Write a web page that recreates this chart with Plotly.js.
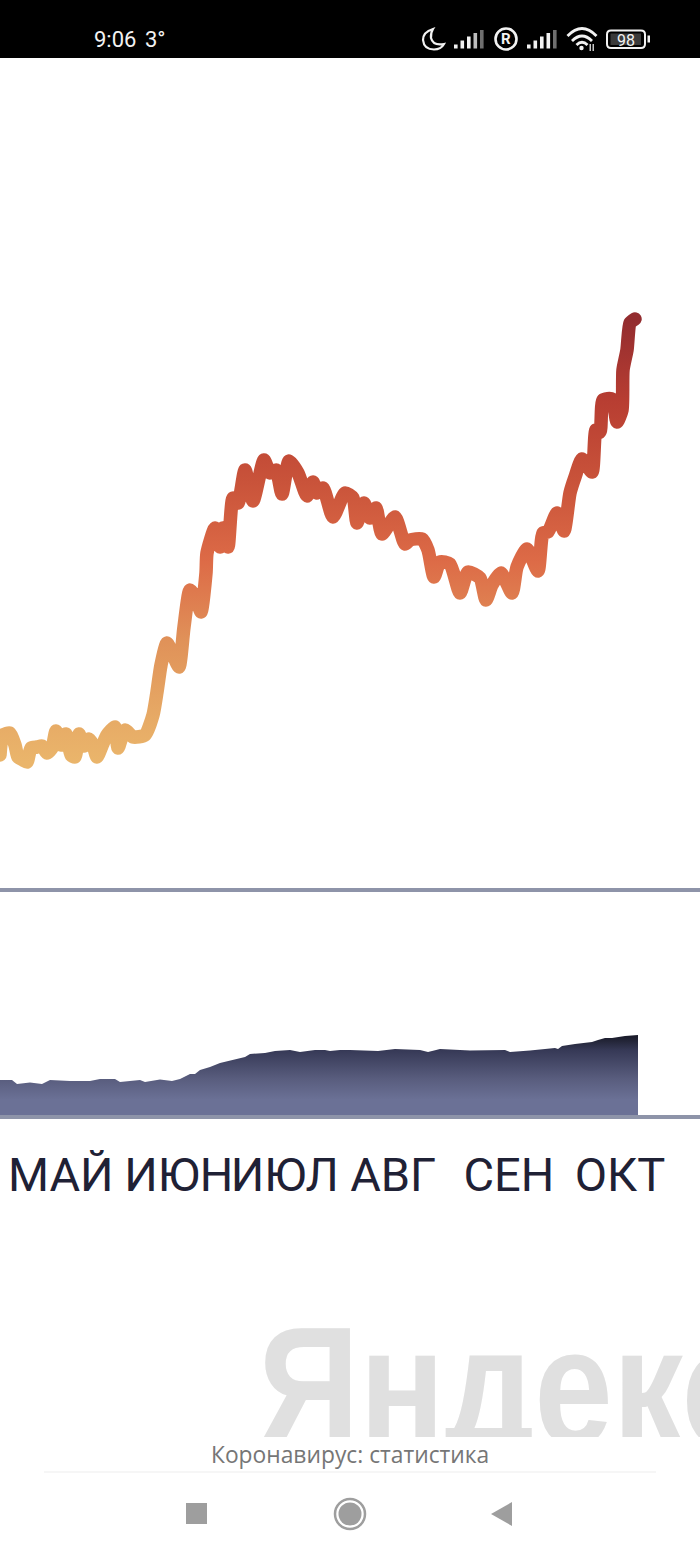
<!DOCTYPE html>
<html><head><meta charset="utf-8">
<script src="https://cdn.plot.ly/plotly-3.0.1.min.js"></script>
<style>html,body{margin:0;padding:0;background:#fff;overflow:hidden}#c{width:700px;height:1556px}</style>
</head><body><div id="c"></div>
<script>
// Daily new cases
var days=[0,.75,2.5,3.75,4.5,5.75,6.75,7.75,9.25,10.5,11.75,13,14,15.25,16.5,17.75,18.75,19.75,21,22.25,23.25,24.25,25.5,26.75,28.75,29.5,31.25,33.25,36.25,38.25,39.25,40.25,41.75,43.25,44.75,46,47.5,49,50.25,51.5,51.75,53.75,55,55.75,57,58.25,59.5,61.25,63.25,66,67.5,69,70.5,72.25,74.5,76.75,78.25,79.25,80.75,83.25,86.25,88.25,89.25,91,92.5,94,95.5,98.75,101.25,102.5,105.5,107,108.5,110,112.5,115,117,120,121.5,123,125.25,128,129.25,131.75,134.5,135.75,137,139.25,141,142.5,143.75,145.5,148,149,150,150.75,153,154.25,155.5,155.75,156.75,157.5,158.75];
var cases=[1340,1540,1560,1440,1320,1290,1270,1410,1420,1430,1360,1410,1580,1440,1550,1340,1320,1550,1430,1500,1440,1320,1430,1540,1620,1410,1590,1520,1540,1740,1970,2240,2460,2340,2220,2620,2990,2910,2770,3160,3360,3610,3420,3610,3420,3910,3860,4190,3880,4290,4160,4190,3950,4280,4160,3930,4070,3960,4010,3720,3960,3910,3660,3860,3710,3810,3550,3720,3450,3490,3500,3390,3120,3270,3250,2960,3170,3110,2890,3040,3160,2960,3220,3400,3180,3560,3570,3760,3580,3960,4120,4300,4170,4590,4570,4890,4900,4670,4790,5190,5390,5660,5700];
// Cumulative totals, thousands
var totalDays=[0,3,4.25,7.5,10.5,12.5,17.5,22.5,25,28.75,30,35,36.25,40,43,45,47.5,48.75,50,52.5,55,58,61.25,62.5,66.25,68.75,72.5,75,78.75,81.25,82.5,85,87.5,94.5,98.75,105,107,110,112.5,117.5,126.25,127.5,132.5,133.75,138.75,139.5,140.5,143.75,146.25,148,149.5,151.25,153,156.25,159.5];
var totals=[35,35,31,32.5,31,35,34,34,36,36,33,35,33,35.5,34,36,41,41,45,48,52,55,58,61,62,64,65,63,65,65,64,65,65,64,66,65,63,66,65.5,64.5,65,63,64.5,65,67,66,69,71,72,73,75,77,77,79,80];
var monthLabels=["МАЙ","ИЮН","ИЮЛ","АВГ","СЕН","ОКТ"];
var monthDays=[15.2,44.7,71.2,98.3,127.2,155];
var lineStopValues=[5720,4890,4090,3290,2490,1690,1290];
var lineStopColors=["#932c2f","#b83e32","#c9533a","#dd6b47","#e09259","#e7ab66","#eab56b"];
var watermark="Яндекс";
var footerTitle="Коронавирус: статистика";
var W=700,H=1556;
function px(x){return x/W} function py(y){return 1-y/H}
function dom(top,bot){return [py(bot),py(top)]}
function P(pts){ // page-pixel path -> paper coordinates
  return pts.replace(/(-?[\d.]+),(-?[\d.]+)/g,function(m,a,b){return px(+a).toFixed(6)+','+py(+b).toFixed(6)});
}
function rect(x0,y0,x1,y1,c){return {type:'rect',xref:'paper',yref:'paper',x0:px(x0),x1:px(x1),y0:py(y0),y1:py(y1),fillcolor:c,line:{width:0},layer:'above'}}
function circ(cx,cy,r,f,s,w){return {type:'circle',xref:'paper',yref:'paper',x0:px(cx-r),x1:px(cx+r),y0:py(cy-r),y1:py(cy+r),fillcolor:f,line:{color:s||f,width:w||0},layer:'above'}}
function path(d,f,s,w){return {type:'path',xref:'paper',yref:'paper',path:P(d),fillcolor:f||'rgba(0,0,0,0)',line:{color:s||'rgba(0,0,0,0)',width:w||0},layer:'above'}}
function label(x,y,t,size,c,anchor,fam){return {xref:'paper',yref:'paper',x:px(x),y:py(y),text:t,showarrow:false,xanchor:anchor||'left',yanchor:'middle',font:{size:size,color:c,family:fam||'Roboto'},borderpad:0}}

var shapes=[rect(0,0,700,58,'#000')];
function signal(x0,cols){
  var hs=[4,8,12,15.5,18.5];
  hs.forEach(function(h,i){var xx=x0+i*6.5;shapes.push(rect(xx,48.5-h,xx+3.6,48.5,cols[i]))});
}
signal(454,['#f2f2f2','#f2f2f2','#f2f2f2','#bdbdbd','#6f6f6f']);
signal(527,['#f2f2f2','#f2f2f2','#f2f2f2','#f2f2f2','#6f6f6f']);
shapes.push(path('M433,29 Q423,32 423,40 Q424,49.5 434,49.5 Q441,49.5 444,44 Q433,46 431,38 Q430.5,33 433,29 Z',null,'#f2f2f2',2.2));
shapes.push(circ(506,39,10.5,'rgba(0,0,0,0)','#f2f2f2',2.6));
['M567.5,36 Q582,21 596.5,36','M572,41 Q582,31 592,41','M576.5,45 Q582,39.5 587.5,45'].forEach(function(d){shapes.push(path(d,null,'#f2f2f2',2.8))});
shapes.push(circ(581.5,48,2.2,'#f2f2f2'));
shapes.push(rect(589.5,44,591,51,'#c8c8c8'),rect(592.5,44,594,51,'#c8c8c8'));
shapes.push(path('M611,30.5 L641,30.5 Q645,30.5 645,34.5 L645,44 Q645,48 641,48 L611,48 Q607,48 607,44 L607,34.5 Q607,30.5 611,30.5 Z',null,'#f2f2f2',2));
shapes.push(rect(610.5,33.5,641,45,'#3a3a3a'));
shapes.push(rect(647.5,35.5,650,42.5,'#f2f2f2'));
// footer
shapes.push(rect(44,1471.5,656,1472.5,'#eeeeee'));
shapes.push(rect(186,1503,207,1524,'#9e9e9e'));
shapes.push(circ(350,1514,15,'rgba(0,0,0,0)','#9e9e9e',2.5));
shapes.push(circ(350,1514,11.5,'#9e9e9e'));
shapes.push(path('M491,1514 L512,1502 L512,1526 Z','#9e9e9e'));

var annotations=[
 label(93,39,'9:06',22,'#f2f2f2'),
 label(144,39,'3°',22,'#f2f2f2'),
 label(506,39.5,'<b>R</b>',15,'#f2f2f2','center'),
 label(626,40,'98',16,'#f2f2f2','center'),
 label(350,1454.5,footerTitle,22.8,'#767676','center','Open Sans')
];

var gradStops=[[0,'#6b7196'],[0.19,'#6b7196'],[0.45,'#595d7e'],[0.81,'#363956'],[0.92,'#242639'],[1,'#171826']];
var traces=[
 {x:days,y:cases,type:'scatter',mode:'lines',xaxis:'x',yaxis:'y',hoverinfo:'skip',showlegend:false,
  line:{color:'#d05a3c',width:13.5,shape:'spline',smoothing:0.6}},
 {x:totalDays,y:totals,type:'scatter',mode:'lines',xaxis:'x2',yaxis:'y2',hoverinfo:'skip',showlegend:false,
  fill:'tozeroy',line:{color:'rgba(0,0,0,0)',width:0},
  fillgradient:{type:'vertical',colorscale:gradStops,start:0,stop:80}},
 {x:[64.5],y:[35],type:'scatter',mode:'text',text:[watermark],textposition:'middle right',cliponaxis:true,
  xaxis:'x3',yaxis:'y3',hoverinfo:'skip',showlegend:false,
  textfont:{family:'Liberation Sans',size:167,color:'#e0e0e0',weight:700}}
];
var layout={width:W,height:H,margin:{l:0,r:0,t:0,b:0},paper_bgcolor:'#fff',plot_bgcolor:'rgba(0,0,0,0)',showlegend:false,
 xaxis:{domain:[0,1],range:[0,175],anchor:'y',showgrid:false,zeroline:false,showticklabels:false,ticks:'',showline:true,linecolor:'#8e94a9',linewidth:4},
 yaxis:{domain:dom(58,888),range:[10,8310],anchor:'x',showgrid:false,zeroline:false,showticklabels:false,ticks:''},
 xaxis2:{domain:[0,1],range:[0,175],anchor:'y2',showgrid:false,zeroline:false,showline:true,linecolor:'#8e94a9',linewidth:4,
   tickmode:'array',tickvals:monthDays,ticktext:monthLabels,tickangle:0,ticks:'outside',ticklen:16,tickcolor:'rgba(0,0,0,0)',
   tickfont:{family:'Roboto',size:47,color:'#1f2135'}},
 yaxis2:{domain:dom(892,1115),range:[0,223],anchor:'x2',showgrid:false,zeroline:false,showticklabels:false,ticks:''},
 xaxis3:{domain:[0,1],range:[0,175],anchor:'y3',visible:false},
 yaxis3:{domain:dom(1300,1437),range:[0,137],anchor:'x3',visible:false},
 shapes:shapes,annotations:annotations};

Plotly.newPlot('c',traces,layout,{staticPlot:true,displayModeBar:false}).then(function(gd){
  var line=gd.querySelector('.scatterlayer .trace .js-line');
  if(line){
    var svg=line.ownerSVGElement, ns='http://www.w3.org/2000/svg';
    var defs=svg.querySelector('defs');
    var g=document.createElementNS(ns,'linearGradient');
    g.setAttribute('id','lineGrad');g.setAttribute('gradientUnits','objectBoundingBox');
    g.setAttribute('x1','0');g.setAttribute('y1','0');g.setAttribute('x2','0');g.setAttribute('y2','1');
    var hi=lineStopValues[0],lo=lineStopValues[lineStopValues.length-1];
    lineStopValues.forEach(function(v,i){var s=document.createElementNS(ns,'stop');
      s.setAttribute('offset',(hi-v)/(hi-lo));s.setAttribute('stop-color',lineStopColors[i]);g.appendChild(s)});
    defs.appendChild(g);
    line.style.stroke='url(#lineGrad)';line.style.strokeLinejoin='round';line.style.strokeLinecap='round';
  }
  var wm=gd.querySelector('.textpoint text');
  if(wm){wm.setAttribute('textLength','502');wm.setAttribute('lengthAdjust','spacingAndGlyphs');}
});
</script></body></html>
